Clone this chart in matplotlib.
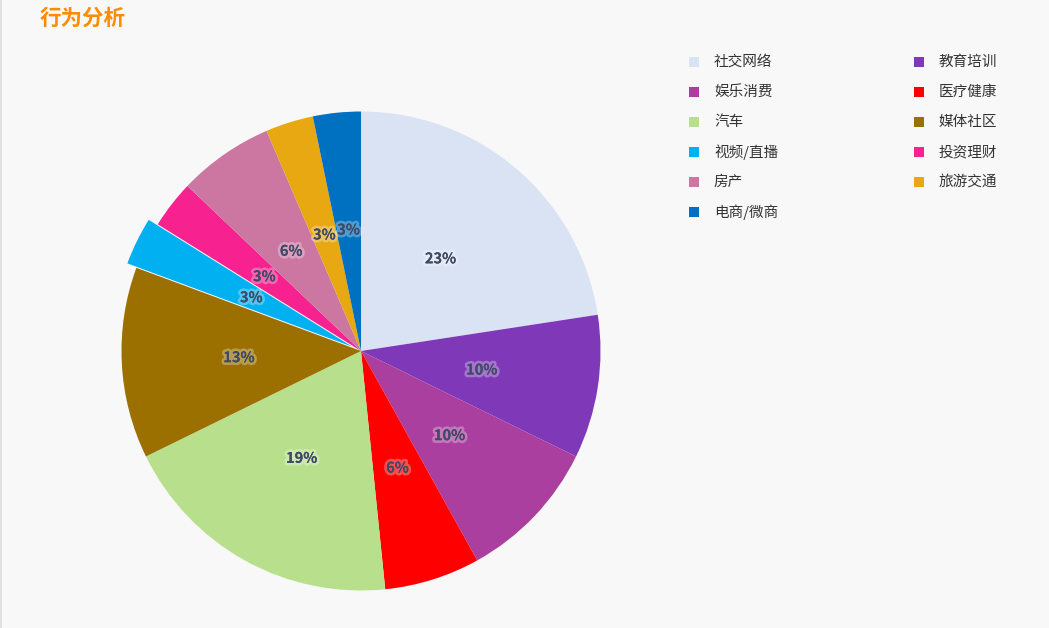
import matplotlib
matplotlib.use("Agg")
import numpy as np
import matplotlib.pyplot as plt
import matplotlib.patheffects as pe
from matplotlib.patches import Rectangle
from matplotlib.lines import Line2D

plt.rcParams['font.family'] = ['Noto Sans CJK SC', 'DejaVu Sans']

categories = ['社交网络', '教育培训', '娱乐消费', '医疗健康', '汽车', '媒体社区',
              '视频/直播', '投资理财', '房产', '旅游交通', '电商/微商']
values = [7, 3, 3, 2, 6, 4, 1, 1, 2, 1, 1]
colors = ['#dae3f3', '#7f38b8', '#ab3fa0', '#ff0000', '#b8e08c', '#9c7000',
          '#00b0f0', '#f7218f', '#cc77a2', '#e8a812', '#0070c0']
exploded = ['视频/直播']
title = '行为分析'

W, H = 1049, 628
fig = plt.figure(figsize=(W / 100, H / 100), dpi=100)
fig.patch.set_facecolor('#f8f8f8')

# left border line
fig.add_artist(Line2D([0.5 / W, 0.5 / W], [0, 1], color='#dddddd', lw=1.2,
                      transform=fig.transFigure))

# pie axes
cx, cy, r = 361, 351, 239.5
lim = 1.1
size = 2 * lim * r
ax = fig.add_axes([(cx - lim * r) / W, (H - cy - lim * r) / H, size / W, size / H])

pct_dist = 0.51
explode = [0.042 if c in exploded else 0 for c in categories]
wedges, texts, autotexts = ax.pie(
    values, colors=colors, startangle=90, counterclock=False, radius=1,
    explode=explode, autopct=lambda p: f'{p:.0f}%', pctdistance=pct_dist,
    wedgeprops=dict(linewidth=0),
    textprops=dict(fontsize=10.5, fontweight='bold', color='#3f4a66'))
ax.set_xlim(-lim, lim)
ax.set_ylim(-lim, lim)
ax.set_aspect('equal')
ax.axis('off')
for w in wedges:
    w.set_clip_on(False)
# labels stay at the un-exploded position
for w, t, e in zip(wedges, autotexts, explode):
    if e:
        mid = np.deg2rad((w.theta1 + w.theta2) / 2)
        t.set_position((pct_dist * np.cos(mid), pct_dist * np.sin(mid)))
for t in autotexts:
    t.set_path_effects([pe.withStroke(linewidth=4, foreground='#ffffff', alpha=0.3),
                        pe.Normal()])

# title
fig.text(40 / W, 1 - 18 / H, title, fontsize=15.5, fontweight='bold',
         color='#ff8c00', va='center', ha='left')

# legend (row-major, 2 columns)
col_x = [689, 914]
row_y0, row_dy = 62, 30
for i, (c, col) in enumerate(zip(categories, colors)):
    row, column = divmod(i, 2)
    x = col_x[column]
    y = row_y0 + row * row_dy
    fig.add_artist(Rectangle((x / W, 1 - (y + 5) / H), 10 / W, 10 / H,
                             facecolor=col, edgecolor='none', transform=fig.transFigure))
    fig.text((x + 25) / W, 1 - y / H, c, fontsize=10.5, color='#333333',
             va='center', ha='left')

fig.savefig('out.png', dpi=100, facecolor=fig.get_facecolor())
